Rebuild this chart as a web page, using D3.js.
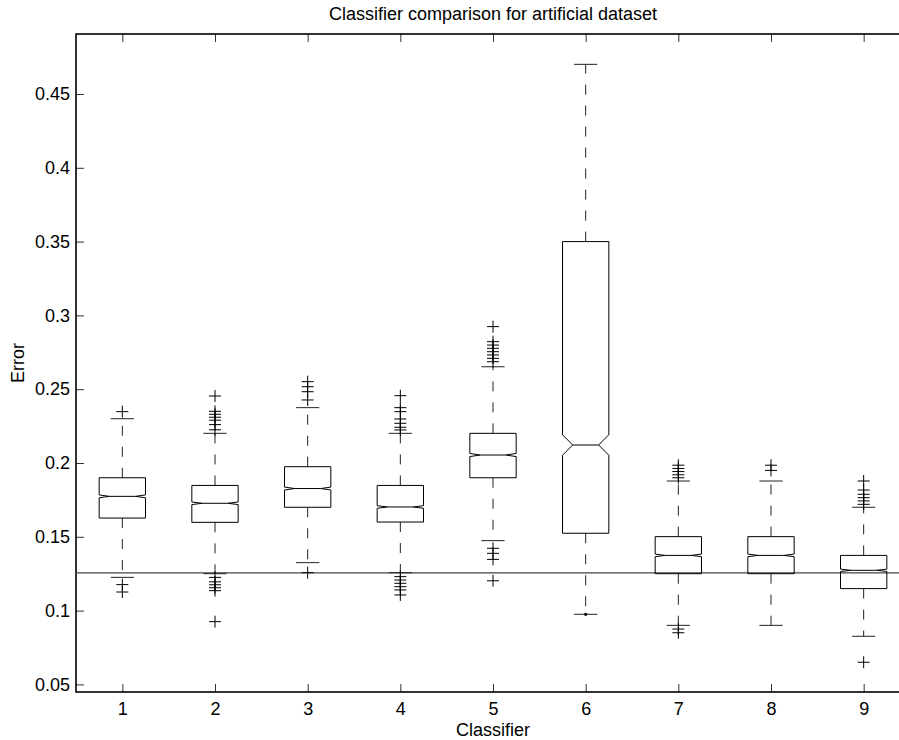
<!DOCTYPE html>
<html lang="en">
<head>
<meta charset="UTF-8">
<title>Classifier comparison for artificial dataset</title>
<script src="https://d3js.org/d3.v7.min.js"></script>
<style>
  body { margin: 0; background: #fff; }
  svg { display: block; }
  svg text { font-family: "Liberation Sans", Arial, sans-serif; fill: #000; }
</style>
</head>
<body>
<svg id="chart"></svg>
<script>
// values (boxplot stats per classifier)
const classifiers = [1, 2, 3, 4, 5, 6, 7, 8, 9];
const lowerCap = [0.1225, 0.1250, 0.1325, 0.1257, 0.1474, 0.0975, 0.0900, 0.0900, 0.0826];
const q1 = [0.1627, 0.1598, 0.1700, 0.1600, 0.1900, 0.1524, 0.1250, 0.1250, 0.1149];
const medians = [0.1774, 0.1727, 0.1827, 0.1702, 0.2054, 0.2122, 0.1374, 0.1374, 0.1273];
const q3 = [0.1900, 0.1848, 0.1975, 0.1848, 0.2201, 0.3500, 0.1501, 0.1501, 0.1374];
const upperCap = [0.2300, 0.2201, 0.2375, 0.2201, 0.2652, 0.4701, 0.1878, 0.1878, 0.1700];
const outliers = [
  [0.2348, 0.1176, 0.1126],
  [0.2454, 0.2350, 0.2330, 0.2310, 0.2290, 0.2260, 0.2225, 0.1225, 0.1195, 0.1175, 0.1155, 0.1135, 0.0925],
  [0.2551, 0.2517, 0.2483, 0.2427, 0.1257],
  [0.2456, 0.2375, 0.2348, 0.2298, 0.2269, 0.2242, 0.2224, 0.1230, 0.1207, 0.1185, 0.1162, 0.1140, 0.1106],
  [0.2924, 0.2822, 0.2799, 0.2777, 0.2754, 0.2732, 0.2709, 0.2686, 0.1422, 0.1388, 0.1347, 0.1202],
  [],
  [0.1985, 0.1963, 0.1942, 0.1920, 0.1900, 0.0875, 0.0850],
  [0.1985, 0.1950],
  [0.1878, 0.1817, 0.1788, 0.1765, 0.1743, 0.1720, 0.0650]
];
const dotMarks = [[], [], [], [], [], [0.0975], [], [], []];
const sampleSize = 2000;      // runs per classifier, used for notch height
const referenceLine = 0.1255;
const yTicks = [0.05, 0.1, 0.15, 0.2, 0.25, 0.3, 0.35, 0.4, 0.45];

const width = 899, height = 740;
const axLeft = 76, axRight = 910, axTop = 34, axBottom = 692;

const svg = d3.select('#chart').attr('width', width).attr('height', height);

const x = d3.scaleLinear().domain([0.5, 9.5]).range([axLeft, axRight]);
const y = d3.scaleLinear().domain([0.04485, 0.49065]).range([axBottom, axTop]);

// axes
const yAxis = d3.axisLeft(y).tickValues(yTicks).tickFormat(d3.format('~g'))
  .tickSize(-8).tickPadding(6);
const xAxis = d3.axisBottom(x).tickValues(classifiers).tickFormat(d3.format('d'))
  .tickSize(-8).tickPadding(10);
const xTop = d3.axisTop(x).tickValues(classifiers).tickFormat('').tickSize(-8);

const gy = svg.append('g').attr('transform', `translate(${axLeft},0)`).call(yAxis);
const gx = svg.append('g').attr('transform', `translate(0,${axBottom})`).call(xAxis);
const gt = svg.append('g').attr('transform', `translate(0,${axTop})`).call(xTop);
[gy, gx, gt].forEach(g => {
  g.select('.domain').remove();
  g.selectAll('.tick line').attr('stroke', '#333').attr('stroke-width', 1);
  g.selectAll('.tick text').attr('font-size', 18);
});

svg.append('rect')
  .attr('x', axLeft).attr('y', axTop)
  .attr('width', axRight - axLeft).attr('height', axBottom - axTop)
  .attr('fill', 'none').attr('stroke', '#000').attr('stroke-width', 1.6);

// labels
svg.append('text').attr('x', (axLeft + axRight) / 2).attr('y', 20)
  .attr('text-anchor', 'middle').attr('font-size', 18)
  .text('Classifier comparison for artificial dataset');
svg.append('text').attr('x', (axLeft + axRight) / 2).attr('y', 736)
  .attr('text-anchor', 'middle').attr('font-size', 18).text('Classifier');
svg.append('text').attr('transform', 'translate(24,363) rotate(-90)')
  .attr('text-anchor', 'middle').attr('font-size', 18).text('Error');

// reference line
svg.append('line')
  .attr('x1', axLeft).attr('x2', axRight)
  .attr('y1', y(referenceLine)).attr('y2', y(referenceLine))
  .attr('stroke', '#444').attr('stroke-width', 1.2);

const boxHalf = 0.25, capHalf = 0.125, notchIn = 0.14;
const plot = svg.append('g').attr('fill', 'none').attr('stroke', '#000').attr('stroke-width', 1);

classifiers.forEach((c, i) => {
  const notch = 1.57 * (q3[i] - q1[i]) / Math.sqrt(sampleSize);
  const lb = x(c - boxHalf), ub = x(c + boxHalf);
  const li = x(c - notchIn), ri = x(c + notchIn);
  const g = plot.append('g');

  // whiskers
  g.append('line').attr('x1', x(c)).attr('x2', x(c))
    .attr('y1', y(q3[i])).attr('y2', y(upperCap[i]))
    .attr('stroke-dasharray', '10,11').attr('stroke', '#222');
  g.append('line').attr('x1', x(c)).attr('x2', x(c))
    .attr('y1', y(q1[i])).attr('y2', y(lowerCap[i]))
    .attr('stroke-dasharray', '10,11').attr('stroke', '#222');
  [upperCap[i], lowerCap[i]].forEach(v => {
    g.append('line').attr('x1', x(c - capHalf)).attr('x2', x(c + capHalf))
      .attr('y1', y(v)).attr('y2', y(v)).attr('stroke', '#222');
  });

  // notched box
  const pts = [
    [lb, y(q1[i])], [ub, y(q1[i])], [ub, y(medians[i] - notch)], [ri, y(medians[i])],
    [ub, y(medians[i] + notch)], [ub, y(q3[i])], [lb, y(q3[i])], [lb, y(medians[i] + notch)],
    [li, y(medians[i])], [lb, y(medians[i] - notch)]
  ];
  g.append('path').attr('d', d3.line()(pts) + 'Z');
  g.append('line').attr('x1', li).attr('x2', ri)
    .attr('y1', y(medians[i])).attr('y2', y(medians[i]));

  // outliers as plus signs
  outliers[i].forEach(v => {
    g.append('path')
      .attr('d', `M${x(c) - 6},${y(v)}H${x(c) + 6}M${x(c)},${y(v) - 6}V${y(v) + 6}`);
  });
  dotMarks[i].forEach(v => {
    g.append('circle').attr('cx', x(c)).attr('cy', y(v)).attr('r', 1.6)
      .attr('fill', '#000').attr('stroke', 'none');
  });
});
</script>
</body>
</html>
